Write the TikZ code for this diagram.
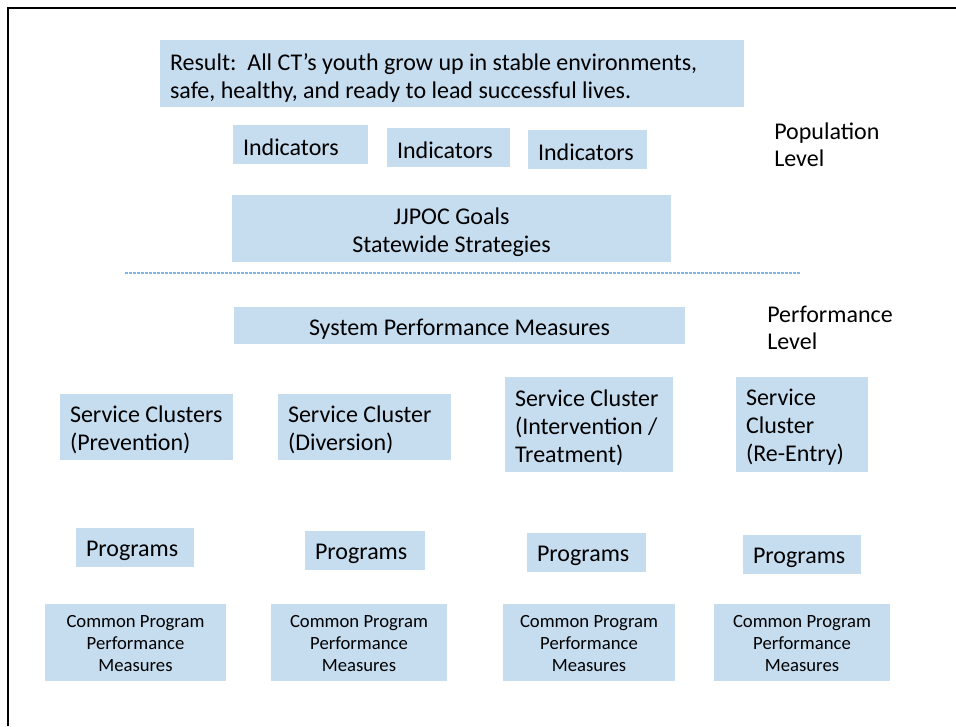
\documentclass[tikz,border=0pt]{standalone}
\usepackage{fontspec}
\setmainfont{Carlito}
\definecolor{boxblue}{RGB}{198,221,240}
\definecolor{sepblue}{RGB}{125,182,232}
\newcommand\nohyphx{\hyphenpenalty=10000 \exhyphenpenalty=10000\relax}
\begin{document}
\begin{tikzpicture}[x=0.75pt,y=-0.75pt,
  bx/.style={fill=boxblue,draw=none,inner sep=0pt},
  tx/.style={inner xsep=0pt,inner ysep=0pt,text=black,
    font=\fontsize{18}{21}\selectfont\nohyphx},
  txl/.style={tx,align=flush left},
  txc/.style={tx,align=flush center},
  small/.style={font=\fontsize{14}{16.5}\selectfont},
  lvl/.style={inner sep=0pt,anchor=west,align=flush left,font=\fontsize{18}{20.25}\selectfont}]
\useasboundingbox (0,0) rectangle (956,726);
% frame
\draw[line width=1.5pt] (8,726) -- (8,8) -- (956,8);
% population level
\node[bx,minimum width=438pt,minimum height=50.25pt] (res) at (452,73.5) {};
\node[txl,text width=423pt] (res-t) at ([yshift=-3pt]res.center)
  {Result:\ \ All CT’s youth grow up in stable environments,\\safe, healthy, and ready to lead successful lives.};
\node[bx,minimum width=101.25pt,minimum height=29.25pt] (ind1) at (300.5,144.5) {};
\node[txl,text width=86.25pt] (ind1-t) at ([yshift=-2.25pt]ind1.center) {Indicators};
\node[bx,minimum width=92.25pt,minimum height=29.25pt] (ind2) at (448.5,147.5) {};
\node[txl,text width=77.25pt] (ind2-t) at ([yshift=-2.25pt]ind2.center) {Indicators};
\node[bx,minimum width=89.25pt,minimum height=29.25pt] (ind3) at (587.5,149) {};
\node[txl,text width=74.25pt] (ind3-t) at ([yshift=-2.25pt]ind3.center) {Indicators};
\node[lvl] (pop) at (774,144.5) {Population\\Level};
\node[bx,minimum width=329.25pt,minimum height=50.25pt] (goals) at (451.5,228.5) {};
\node[txc] (goals-t) at ([yshift=-3pt]goals.center) {JJPOC Goals\\Statewide Strategies};
% separator
\coordinate (sepL) at (125,273);
\coordinate (sepR) at (800,273);
\draw[sepblue,line width=0.8pt,dash pattern=on 2pt off 1pt] (sepL) -- (sepR);
% performance level
\node[bx,minimum width=338.25pt,minimum height=27.75pt] (spm) at (459.5,325.5) {};
\node[txc] (spm-t) at ([yshift=-3pt]spm.center) {System Performance Measures};
\node[lvl] (perf) at (767,327.5) {Performance\\Level};
\node[bx,minimum width=129.75pt,minimum height=49.5pt] (sc1) at (146.5,427) {};
\node[txl,text width=114.75pt] (sc1-t) at ([yshift=-2.25pt]sc1.center) {Service Clusters\\(Prevention)};
\node[bx,minimum width=129.75pt,minimum height=49.5pt] (sc2) at (364.5,427) {};
\node[txl,text width=114.75pt] (sc2-t) at ([yshift=-2.25pt]sc2.center) {Service Cluster\\(Diversion)};
\node[bx,minimum width=126pt,minimum height=71.25pt] (sc3) at (589,424.5) {};
\node[txl,text width=111pt] (sc3-t) at ([yshift=-2.25pt]sc3.center) {Service Cluster\\(Intervention /\\Treatment)};
\node[bx,minimum width=99pt,minimum height=71.25pt] (sc4) at (802,424.5) {};
\node[txl,text width=84pt] (sc4-t) at ([yshift=-2.25pt]sc4.center) {Service\\Cluster\\(Re-Entry)};
% programs
\node[bx,minimum width=88.5pt,minimum height=29.25pt] (pr1) at (135,547.5) {};
\node[txl,text width=73.5pt] (pr1-t) at ([yshift=-2.25pt]pr1.center) {Programs};
\node[bx,minimum width=90pt,minimum height=29.25pt] (pr2) at (365,550.5) {};
\node[txl,text width=75pt] (pr2-t) at ([yshift=-2.25pt]pr2.center) {Programs};
\node[bx,minimum width=89.25pt,minimum height=29.25pt] (pr3) at (586.5,552.5) {};
\node[txl,text width=74.25pt] (pr3-t) at ([yshift=-2.25pt]pr3.center) {Programs};
\node[bx,minimum width=88.5pt,minimum height=29.25pt] (pr4) at (802,554.5) {};
\node[txl,text width=73.5pt] (pr4-t) at ([yshift=-2.25pt]pr4.center) {Programs};
% common measures
\node[bx,minimum width=135.75pt,minimum height=57.75pt] (cm1) at (135.5,642.5) {};
\node[txc,small] (cm1-t) at ([yshift=-0.75pt]cm1.center) {Common Program\\Performance\\Measures};
\node[bx,minimum width=132pt,minimum height=57.75pt] (cm2) at (359,642.5) {};
\node[txc,small] (cm2-t) at ([yshift=-0.75pt]cm2.center) {Common Program\\Performance\\Measures};
\node[bx,minimum width=129pt,minimum height=57.75pt] (cm3) at (589,642.5) {};
\node[txc,small] (cm3-t) at ([yshift=-0.75pt]cm3.center) {Common Program\\Performance\\Measures};
\node[bx,minimum width=132pt,minimum height=57.75pt] (cm4) at (802,642.5) {};
\node[txc,small] (cm4-t) at ([yshift=-0.75pt]cm4.center) {Common Program\\Performance\\Measures};
\end{tikzpicture}
\end{document}
